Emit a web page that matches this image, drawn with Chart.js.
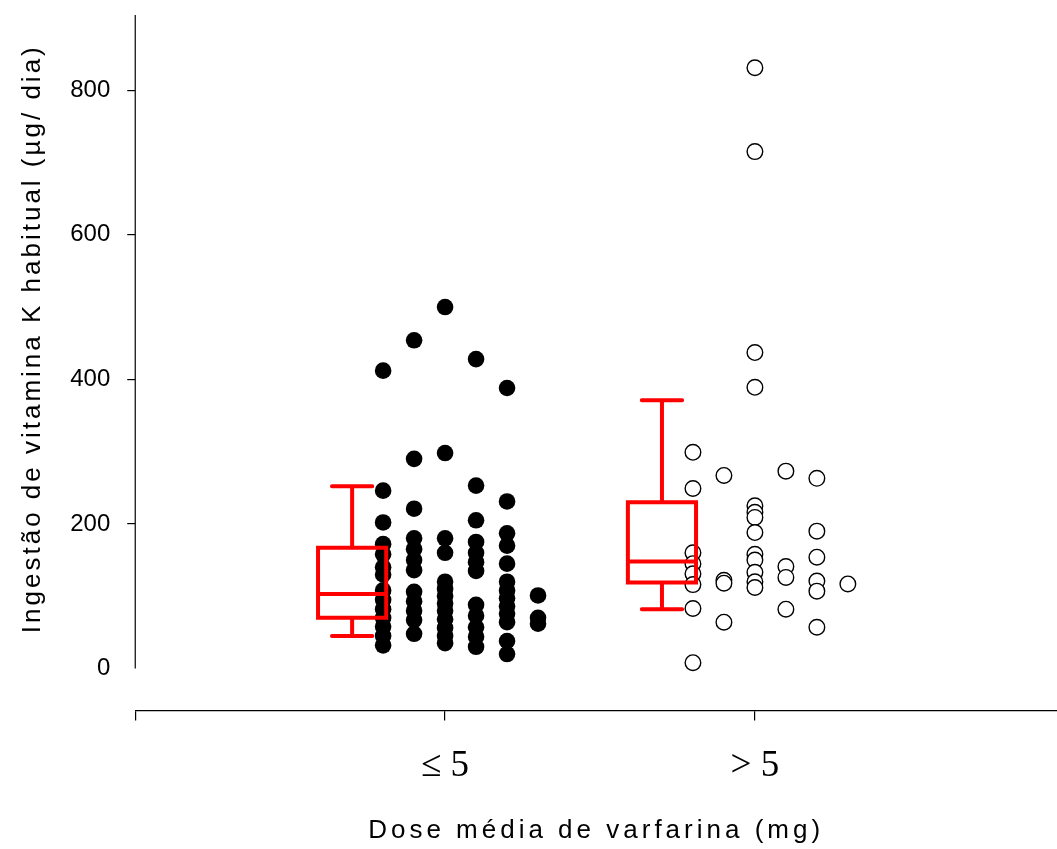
<!DOCTYPE html>
<html>
<head>
<meta charset="utf-8">
<script src="https://cdn.jsdelivr.net/npm/chart.js@4.4.1/dist/chart.umd.min.js"></script>
<style>
  body { margin: 0; background: #fff; }
</style>
</head>
<body>
<canvas id="myChart" width="1057" height="849"></canvas>
<script>
const categories = ['\u2264 5', '> 5']
const yTicks = [0, 200, 400, 600, 800]
const columnOffsets = [-0.2, -0.1, 0, 0.1, 0.2, 0.3]

// dose <= 5 mg, one array per dot column
const lowDose = [
    [412, 246, 202, 172, 158, 140, 130, 108, 95, 82, 70, 58, 45, 32],
    [454, 290, 221, 180, 165, 150, 136, 106, 93, 80, 67, 48],
    [500, 298, 180, 160, 120, 110, 100, 90, 80, 68, 56, 45, 35],
    [428, 253, 205, 175, 160, 147, 135, 88, 73, 57, 44, 30],
    [388, 231, 187, 170, 145, 120, 108, 97, 86, 76, 64, 38, 20],
    [101, 70, 62]
]

// dose > 5 mg
const highDose = [
    [299, 249, 160, 145, 131, 116, 83, 8],
    [267, 122, 118, 64],
    [831, 715, 437, 389, 225, 216, 209, 188, 158, 150, 133, 120, 112],
    [273, 141, 126, 82],
    [263, 190, 154, 121, 107, 57],
    [117]
]

// min, q1, median, q3, max
const lowBox = [45, 70, 103, 167, 252]
const highBox = [82, 119, 148, 230, 371]

const red = '#ff0000'

function toPoints(columns, cat) {
    const pts = []
    columns.forEach((col, i) => {
        col.forEach(v => pts.push({ x: cat + columnOffsets[i], y: v }))
    })
    return pts
}

const boxPlugin = {
    id: 'boxes',
    beforeDraw(chart) {
        // the original titles are letter spaced, y title centred on the axis line
        Object.values(chart.scales).forEach(s => {
            if (s._spaced) return
            const orig = s.drawTitle
            s.drawTitle = function () {
                const ctx = this.ctx
                ctx.save()
                ctx.letterSpacing = this.axis === 'y' ? '3px' : '4px'
                if (this.axis === 'y') ctx.translate(0, -24)
                orig.call(this)
                ctx.restore()
            }
            s._spaced = true
        })
    },
    beforeDatasetsDraw(chart) {
        // y axis line only runs from 0 to the top
        const { ctx, scales: { x, y } } = chart
        ctx.save()
        ctx.strokeStyle = '#000'
        ctx.lineWidth = 1.2
        ctx.beginPath()
        ctx.moveTo(x.left, y.getPixelForValue(0))
        ctx.lineTo(x.left, chart.chartArea.top)
        ctx.stroke()
        ctx.restore()
    },
    afterDatasetsDraw(chart) {
        const { ctx, scales: { x, y } } = chart
        ctx.save()
        ctx.strokeStyle = red
        ctx.lineWidth = 4
        ctx.lineCap = 'round'
        ;[lowBox, highBox].forEach((s, i) => {
            const c = i + 1 - 0.3
            const xl = x.getPixelForValue(c - 0.11)
            const xr = x.getPixelForValue(c + 0.11)
            const xc = x.getPixelForValue(c)
            const capL = x.getPixelForValue(c - 0.065)
            const capR = x.getPixelForValue(c + 0.065)
            const [mn, q1, med, q3, mx] = s.map(v => y.getPixelForValue(v))
            ctx.beginPath()
            ctx.rect(xl, q3, xr - xl, q1 - q3)
            ctx.moveTo(xl, med); ctx.lineTo(xr, med)
            ctx.moveTo(xc, q3); ctx.lineTo(xc, mx)
            ctx.moveTo(capL, mx); ctx.lineTo(capR, mx)
            ctx.moveTo(xc, q1); ctx.lineTo(xc, mn)
            ctx.moveTo(capL, mn); ctx.lineTo(capR, mn)
            ctx.stroke()
        })
        ctx.restore()
    }
}

Chart.defaults.font.family = '"Liberation Sans", Arial, sans-serif'
Chart.defaults.color = '#000'

const noPad = s => { s.paddingTop = 0; s.paddingBottom = 0; s.paddingLeft = 0; s.paddingRight = 0 }

new Chart(document.getElementById('myChart'), {
    type: 'scatter',
    data: {
        datasets: [{
            label: categories[0],
            data: toPoints(lowDose, 1),
            pointRadius: 8.3,
            pointBackgroundColor: '#000',
            pointBorderColor: '#000',
            pointBorderWidth: 0
        }, {
            label: categories[1],
            data: toPoints(highDose, 2),
            pointRadius: 7.8,
            pointBackgroundColor: '#fff',
            pointBorderColor: '#000',
            pointBorderWidth: 1.4
        }]
    },
    options: {
        responsive: false,
        animation: false,
        layout: { autoPadding: false, padding: { top: 15, left: 0, right: 0, bottom: 3 } },
        plugins: {
            legend: { display: false },
            tooltip: { enabled: false }
        },
        scales: {
            x: {
                type: 'linear',
                min: 0,
                max: 2.975,
                afterBuildTicks: scale => { scale.ticks = [0, 1, 2].map(v => ({ value: v })) },
                afterFit: noPad,
                border: { display: true, color: '#000', width: 1.2 },
                grid: { drawOnChartArea: false, drawTicks: true, tickLength: 10, color: '#000', lineWidth: 1.2 },
                ticks: {
                    padding: 24,
                    maxRotation: 0,
                    font: { family: '"Liberation Serif", "Times New Roman", serif', size: 37 },
                    callback: v => categories[v - 1] || ''
                },
                title: {
                    display: true,
                    text: 'Dose média de varfarina (mg)',
                    font: { size: 26 },
                    padding: { top: 2, bottom: 0 }
                }
            },
            y: {
                min: -58,
                max: 904,
                afterBuildTicks: scale => { scale.ticks = yTicks.map(v => ({ value: v })) },
                afterFit: noPad,
                border: { display: false },
                grid: {
                    drawOnChartArea: false, drawTicks: true, tickLength: 8, lineWidth: 1.2,
                    color: ctx => (ctx.tick && ctx.tick.value === 0) ? 'rgba(0,0,0,0)' : '#000'
                },
                ticks: { padding: 17, font: { size: 24 } },
                title: {
                    display: true,
                    text: 'Ingestão de vitamina K habitual (µg/ dia)',
                    font: { size: 26 },
                    padding: { top: 17, bottom: 5 }
                }
            }
        }
    },
    plugins: [boxPlugin]
})
</script>
</body>
</html>
